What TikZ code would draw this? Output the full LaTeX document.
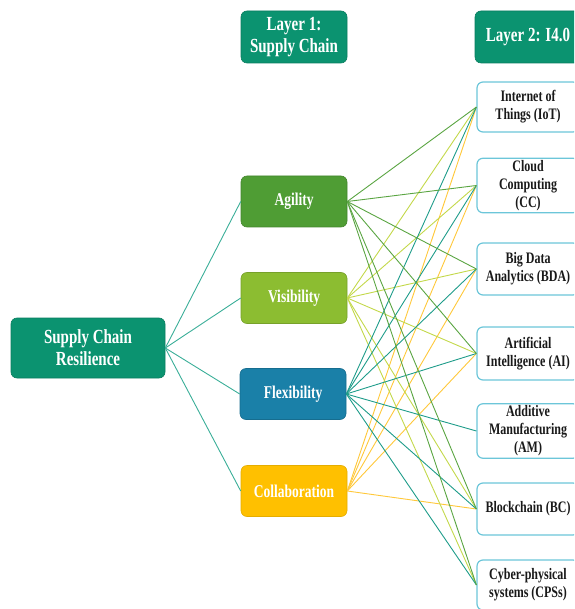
\documentclass[tikz,border=0pt]{standalone}
\usepackage{fontspec}
\setmainfont{Liberation Serif}[FakeStretch=0.75]
\definecolor{hdr}{HTML}{0B9370}
\definecolor{agi}{HTML}{4F9D34}
\definecolor{vis}{HTML}{8CBD31}
\definecolor{flx}{HTML}{1A80A8}
\definecolor{col}{HTML}{FFC000}
\definecolor{rbd}{HTML}{6CC6D9}
\definecolor{lagi}{HTML}{5AA542}
\definecolor{lvis}{HTML}{C3D84A}
\definecolor{lflx}{HTML}{1E9C8A}
\definecolor{lcol}{HTML}{FFC83A}
\definecolor{lscr}{HTML}{3AAE98}
\tikzset{
  box/.style={rectangle, rounded corners=6pt, align=center, inner sep=2pt, font=\bfseries},
  hbox/.style={box, fill=hdr, draw=hdr!85!black, line width=0.6pt, text=white, font=\fontsize{20}{22}\selectfont\bfseries},
  mbox/.style={box, minimum width=106pt, minimum height=51pt, line width=0.6pt, text=white, font=\fontsize{18}{20}\selectfont\bfseries},
  rbox/.style={box, fill=white, draw=rbd, line width=1.2pt, minimum width=102pt, text=black!90, font=\fontsize{16}{18}\selectfont\bfseries},
  lnk/.style={line width=0.9pt}
}
\begin{document}
\begin{tikzpicture}[x=1pt,y=-1pt]
\useasboundingbox (0,0) rectangle (574,609);
\clip (0,0) rectangle (574,609);
% headers
\node[hbox, minimum width=106pt, minimum height=52pt] (L1) at (294,37) {Layer 1:\\Supply Chain};
\node[hbox, minimum width=106pt, minimum height=52pt] (L2) at (528,37) {Layer 2: I4.0};
% root
\node[hbox, minimum width=154pt, minimum height=60pt] (scr) at (88,348) {Supply Chain\\Resilience};
% middle
\node[mbox, fill=agi, draw=agi!85!black] (agi) at (294,201.5) {Agility};
\node[mbox, fill=vis, draw=vis!85!black] (vis) at (294,298) {Visibility};
\node[mbox, fill=flx, draw=flx!85!black] (flx) at (293,394) {Flexibility};
\node[mbox, fill=col, draw=col!90!black] (col) at (294,491) {Collaboration};
% right
\node[rbox, minimum height=50pt] (iot) at (528,107) {Internet of\\Things (IoT)};
\node[rbox, minimum height=53pt] (cc) at (528,185.5) {Cloud\\Computing\\(CC)};
\node[rbox, minimum height=52pt] (bda) at (528,269) {Big Data\\Analytics (BDA)};
\node[rbox, minimum height=53pt] (ai) at (528,353.5) {Artificial\\Intelligence (AI)};
\node[rbox, minimum height=52pt] (am) at (528,431) {Additive\\Manufacturing\\(AM)};
\node[rbox, minimum height=52pt] (bc) at (528,509) {Blockchain (BC)};
\node[rbox, minimum height=50pt] (cps) at (528,585) {Cyber-physical\\systems (CPSs)};
% root links
\foreach \m in {agi,vis,flx,col}
  \draw[lnk, lscr] (scr.east) -- (\m.west);
% links
\foreach \r in {iot,cc,bda,ai,bc}
  \draw[lnk, lcol] (col.east) -- (\r.west);
\foreach \r in {iot,cc,bda,ai,bc,cps}
  \draw[lnk, lvis] (vis.east) -- (\r.west);
\foreach \r in {iot,cc,bda,ai,am,bc,cps}
  \draw[lnk, lflx] (flx.east) -- (\r.west);
\foreach \r in {iot,cc,bda,ai,bc,cps}
  \draw[lnk, lagi] (agi.east) -- (\r.west);
\end{tikzpicture}
\end{document}
